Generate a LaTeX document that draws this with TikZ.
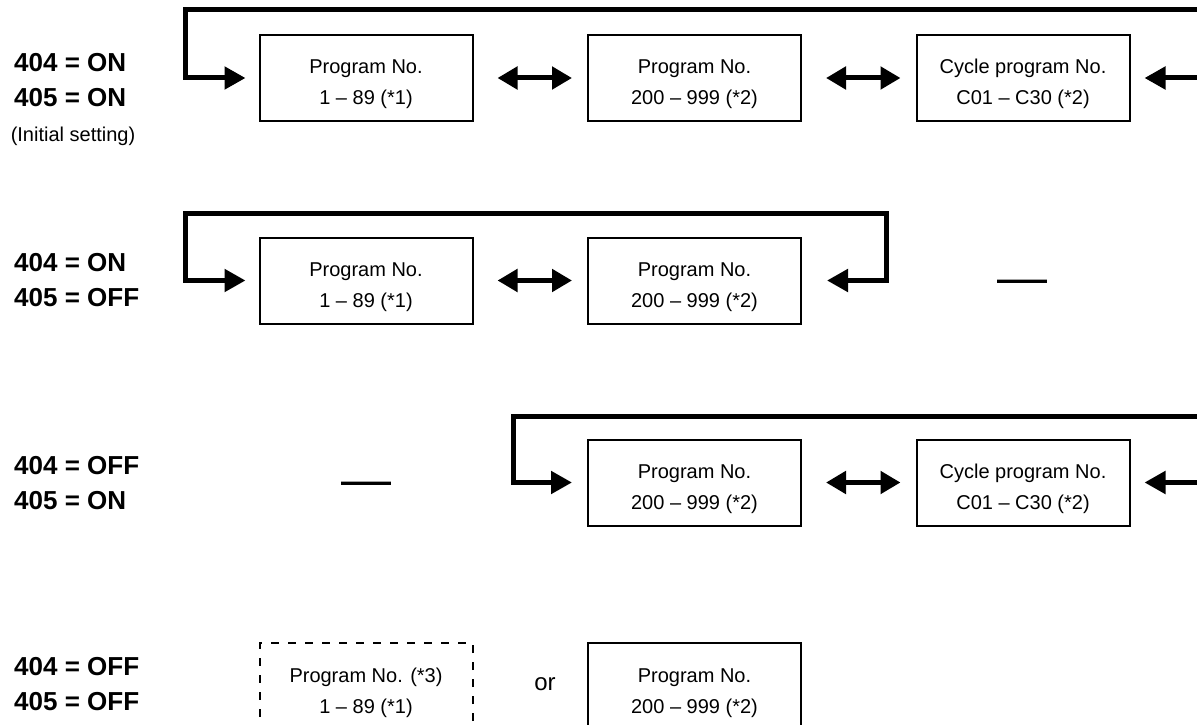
\documentclass[tikz,border=0pt]{standalone}
\usepackage{fontspec}
\setmainfont{Liberation Sans}
\usetikzlibrary{arrows.meta}
\newcommand{\boxtxt}[2]{\begin{tabular}[t]{@{}c@{}}#1\\#2\end{tabular}}
\tikzset{
  box/.style={draw, line width=2pt, minimum width=213pt, minimum height=86pt, inner sep=0pt,
    text height=12pt, text depth=20pt, font=\fontsize{20}{31}\selectfont},
  dbox/.style={box, dash pattern=on 8pt off 9pt},
  lbl/.style={anchor=west, align=left, inner sep=0pt, font=\fontsize{26}{35}\selectfont\bfseries},
  note/.style={inner sep=0pt, font=\fontsize{20}{24}\selectfont},
  loopline/.style={line width=5pt, {Triangle[length=21pt,width=22pt]}-{Triangle[length=21pt,width=22pt]}},
  dbl/.style={line width=5pt, {Triangle[length=20pt,width=22pt]}-{Triangle[length=20pt,width=22pt]}},
  dashmark/.style={inner sep=0pt, font=\fontsize{50}{50}\selectfont},
}
\begin{document}
\begin{tikzpicture}[x=1pt,y=-1pt]
\clip (0,0) rectangle (1197,725);
\fill[white] (0,0) rectangle (1197,725);

% ---------- Row 1: 404 = ON, 405 = ON
\node[lbl] (t1) at (14,80) {404 = ON\\405 = ON};
\node[note] (i1) at (73,136) {(Initial setting)};
\node[box] (a1) at (366,78) {\boxtxt{Program No.}{1 – 89 (*1)}};
\node[box] (a2) at (694.5,78) {\boxtxt{Program No.}{200 – 999 (*2)}};
\node[box] (a3) at (1023,78) {\boxtxt{Cycle program No.}{C01 – C30 (*2)}};
\draw[dbl] ([xshift=24pt]a1.east) -- ([xshift=-15pt]a2.west);
\draw[dbl] ([xshift=24pt]a2.east) -- ([xshift=-15pt]a3.west);
\coordinate (l1) at (185,10);
\coordinate (r1) at (1240,10);
\draw[loopline] ([xshift=14pt]a3.east) -- (r1 |- a3.east) -- (r1) -- (l1) -- (l1 |- a1.west) -- ([xshift=-13pt]a1.west);

% ---------- Row 2: 404 = ON, 405 = OFF
\node[lbl] (t2) at (14,280) {404 = ON\\405 = OFF};
\node[box] (b1) at (366,280.5) {\boxtxt{Program No.}{1 – 89 (*1)}};
\node[box] (b2) at (694.5,280.5) {\boxtxt{Program No.}{200 – 999 (*2)}};
\draw[dbl] ([xshift=24pt]b1.east) -- ([xshift=-15pt]b2.west);
\coordinate (l2) at (185,213);
\coordinate (r2) at (886,213);
\draw[loopline] ([xshift=25pt]b2.east) -- (r2 |- b2.east) -- (r2) -- (l2) -- (l2 |- b1.west) -- ([xshift=-13pt]b1.west);
\node[dashmark] (d2) at (1022,287) {—};

% ---------- Row 3: 404 = OFF, 405 = ON
\node[lbl] (t3) at (14,483.5) {404 = OFF\\405 = ON};
\node[dashmark] (d3) at (366,489) {—};
\node[box] (c1) at (694.5,482.5) {\boxtxt{Program No.}{200 – 999 (*2)}};
\node[box] (c2) at (1023,482.5) {\boxtxt{Cycle program No.}{C01 – C30 (*2)}};
\draw[dbl] ([xshift=24pt]c1.east) -- ([xshift=-15pt]c2.west);
\coordinate (l3) at (513,416);
\coordinate (r3) at (1240,416);
\draw[loopline] ([xshift=14pt]c2.east) -- (r3 |- c2.east) -- (r3) -- (l3) -- (l3 |- c1.west) -- ([xshift=-15pt]c1.west);

% ---------- Row 4: 404 = OFF, 405 = OFF
\node[lbl] (t4) at (14,684.5) {404 = OFF\\405 = OFF};
\node[dbox] (e1) at (366,686) {\boxtxt{Program No. (*3)}{1 – 89 (*1)}};
\node[note, font=\fontsize{24}{28}\selectfont] (or) at (545,684) {or};
\node[box] (e2) at (694.5,686) {\boxtxt{Program No.}{200 – 999 (*2)}};
\end{tikzpicture}
\end{document}
